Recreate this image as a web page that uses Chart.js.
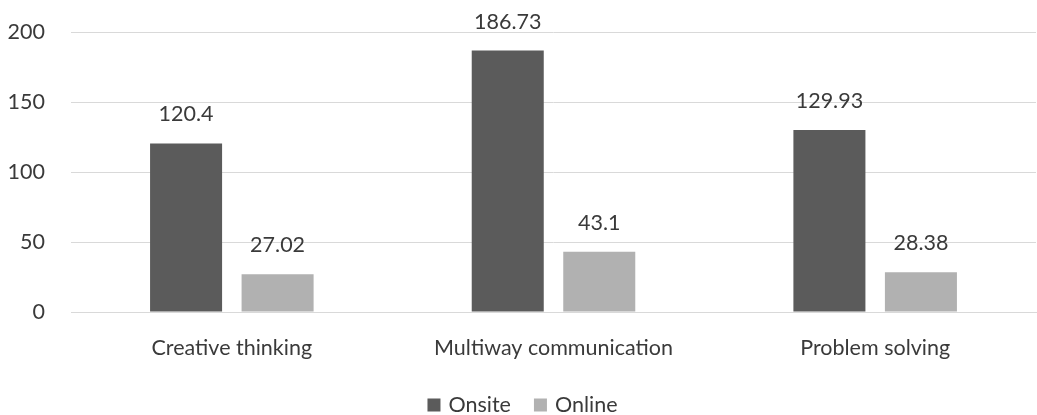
<!DOCTYPE html>
<html>
<head>
<meta charset="utf-8">
<script src="https://cdn.jsdelivr.net/npm/chart.js@4"></script>
<style>
  html, body { margin: 0; padding: 0; background: #ffffff; }
  #wrap { width: 1037px; height: 415px; }
</style>
</head>
<body>
<div id="wrap"><canvas id="c" width="1037" height="415"></canvas></div>
<script>
const categories = ["Creative thinking", "Multiway communication", "Problem solving"];
const onsiteValues = [120.4, 186.73, 129.93];
const onlineValues = [27.02, 43.1, 28.38];
const yTicks = [0, 50, 100, 150, 200];

const FONT = "Lato, 'Noto Sans', sans-serif";
const FS = 21.5;
const TEXT = "#3a3a3a";

const dataLabels = {
  id: 'dataLabels',
  afterDatasetsDraw(chart) {
    const ctx = chart.ctx;
    ctx.save();
    ctx.font = FS + "px " + FONT;
    ctx.fillStyle = TEXT;
    ctx.textAlign = "center";
    ctx.textBaseline = "middle";
    chart.data.datasets.forEach((ds, i) => {
      const meta = chart.getDatasetMeta(i);
      meta.data.forEach((bar, j) => {
        ctx.fillText(String(ds.data[j]), bar.x, bar.y - 29);
      });
    });
    ctx.restore();
  }
};

const bottomLegend = {
  id: 'bottomLegend',
  afterDraw(chart) {
    const ctx = chart.ctx;
    ctx.save();
    ctx.font = FS + "px " + FONT;
    ctx.textBaseline = "middle";
    ctx.textAlign = "left";
    const box = 13, gapBoxText = 8, gapItems = 23;
    const items = chart.data.datasets.map(ds => ({ text: ds.label, color: ds.backgroundColor }));
    const widths = items.map(it => box + gapBoxText + ctx.measureText(it.text).width);
    const total = widths.reduce((a, b) => a + b, 0) + gapItems * (items.length - 1);
    let x = (chart.width - total) / 2 + 4;
    const y = 405;
    items.forEach((it, i) => {
      ctx.fillStyle = it.color;
      ctx.fillRect(x, y - box / 2, box, box);
      ctx.fillStyle = TEXT;
      ctx.fillText(it.text, x + box + gapBoxText, y);
      x += widths[i] + gapItems;
    });
    ctx.restore();
  }
};

new Chart(document.getElementById('c'), {
  type: 'bar',
  data: {
    labels: categories,
    datasets: [
      { label: 'Onsite', data: onsiteValues, backgroundColor: '#5b5b5b',
        categoryPercentage: 0.569, barPercentage: 0.787 },
      { label: 'Online', data: onlineValues, backgroundColor: '#b1b1b1',
        categoryPercentage: 0.569, barPercentage: 0.787 }
    ]
  },
  options: {
    responsive: false,
    animation: false,
    devicePixelRatio: 1,
    layout: { padding: { top: 32, right: 1, left: 0, bottom: 0 } },
    plugins: {
      tooltip: { enabled: false },
      legend: { display: false }
    },
    scales: {
      x: {
        grid: { display: false },
        border: { display: true, color: '#d9d9d9', width: 1 },
        ticks: { font: { size: FS, family: FONT }, color: TEXT, padding: 15 },
        afterFit(scale) {
          scale.height = 103;
          scale.paddingTop = 0; scale.paddingBottom = 0;
          scale.paddingLeft = 0; scale.paddingRight = 0;
        }
      },
      y: {
        min: 0, max: 200,
        afterBuildTicks(scale) { scale.ticks = yTicks.map(v => ({ value: v })); },
        grid: { color: '#d9d9d9', lineWidth: 1, drawTicks: false },
        border: { display: false },
        ticks: { font: { size: FS, family: FONT }, color: TEXT, padding: 26 },
        afterFit(scale) {
          scale.width = 71;
          scale.paddingTop = 0; scale.paddingBottom = 0;
          scale.paddingLeft = 0; scale.paddingRight = 0;
        }
      }
    }
  },
  plugins: [dataLabels, bottomLegend]
});
</script>
</body>
</html>
